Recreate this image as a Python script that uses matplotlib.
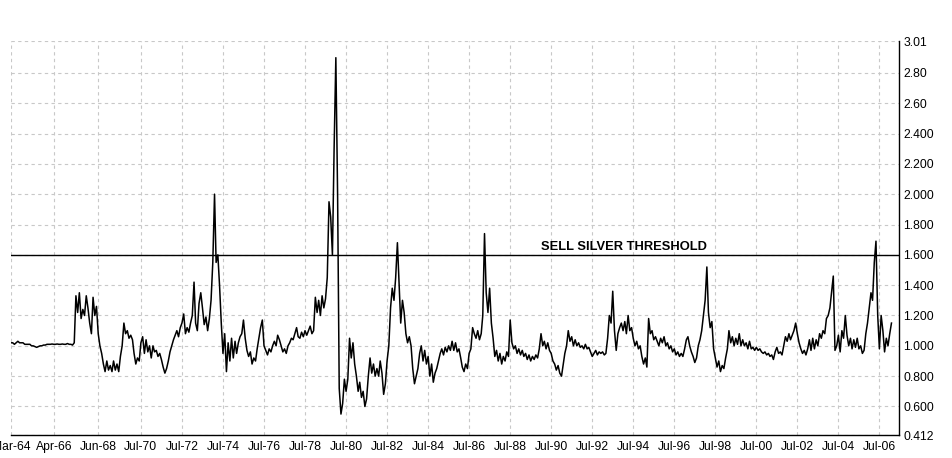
import matplotlib
matplotlib.use("Agg")
import matplotlib.pyplot as plt
import matplotlib.dates as mdates
import pandas as pd

# ---- data (monthly, starting Mar-1964) ----
start_month = "1964-03-01"
ratio = [
    # 1964 (Mar-Dec)
    1.02, 1.02, 1.01, 1.02, 1.03, 1.02, 1.02, 1.02, 1.01, 1.01,
    # 1965
    1.01, 1.01, 1.00, 1.00, 0.995, 0.99, 0.995, 1.00, 1.00, 1.005, 1.005, 1.01,
    # 1966
    1.01, 1.01, 1.012, 1.01, 1.01, 1.012, 1.01, 1.01, 1.012, 1.01, 1.01, 1.015,
    # 1967
    1.01, 1.01, 1.005, 1.02, 1.33, 1.22, 1.35, 1.18, 1.24, 1.20, 1.33, 1.25,
    # 1968
    1.15, 1.08, 1.32, 1.20, 1.26, 1.08, 1.00, 0.95, 0.88, 0.83, 0.90, 0.84,
    # 1969
    0.87, 0.83, 0.90, 0.84, 0.88, 0.83, 0.93, 1.00, 1.15, 1.08, 1.10, 1.05,
    # 1970
    1.07, 1.04, 0.95, 0.88, 0.92, 0.90, 1.02, 1.06, 0.95, 1.04, 0.96, 1.00,
    # 1971
    0.92, 1.00, 0.96, 0.97, 0.93, 0.95, 0.91, 0.86, 0.82, 0.85, 0.90, 0.96,
    # 1972
    1.00, 1.04, 1.07, 1.10, 1.06, 1.12, 1.15, 1.21, 1.08, 1.12, 1.09, 1.15,
    # 1973
    1.20, 1.42, 1.15, 1.10, 1.28, 1.35, 1.25, 1.14, 1.19, 1.10, 1.18, 1.30,
    # 1974
    1.55, 2.00, 1.55, 1.60, 1.40, 1.15, 0.95, 1.08, 0.83, 1.02, 0.90, 1.05,
    # 1975
    0.92, 1.03, 0.95, 1.02, 1.06, 1.08, 1.17, 1.05, 0.97, 0.93, 0.96, 0.88,
    # 1976
    0.92, 0.90, 0.98, 1.05, 1.12, 1.17, 1.00, 0.97, 0.94, 0.98, 0.96, 1.00,
    # 1977
    1.03, 1.00, 1.07, 1.04, 1.00, 0.96, 0.98, 0.95, 1.00, 1.02, 1.05, 1.04,
    # 1978
    1.08, 1.12, 1.06, 1.05, 1.09, 1.06, 1.10, 1.07, 1.10, 1.13, 1.08, 1.10,
    # 1979
    1.32, 1.22, 1.30, 1.20, 1.33, 1.25, 1.31, 1.45, 1.95, 1.85, 1.60, 2.30,
    # 1980
    2.90, 2.00, 0.72, 0.55, 0.62, 0.78, 0.70, 0.78, 1.05, 0.92, 1.02, 0.88,
    # 1981
    0.80, 0.70, 0.76, 0.66, 0.70, 0.60, 0.65, 0.80, 0.92, 0.82, 0.88, 0.80,
    # 1982
    0.85, 0.80, 0.90, 0.82, 0.68, 0.75, 0.90, 1.00, 1.25, 1.38, 1.30, 1.45,
    # 1983
    1.68, 1.40, 1.15, 1.30, 1.22, 1.08, 1.02, 1.06, 1.00, 0.85, 0.75, 0.80,
    # 1984
    0.85, 0.95, 1.00, 0.90, 0.97, 0.88, 0.93, 0.80, 0.88, 0.76, 0.82, 0.85,
    # 1985
    0.90, 0.95, 0.98, 0.94, 0.99, 0.96, 1.00, 0.97, 1.03, 0.97, 1.02, 0.96,
    # 1986
    0.98, 0.92, 0.86, 0.83, 0.88, 0.85, 0.95, 0.98, 1.12, 1.08, 1.05, 1.10,
    # 1987
    1.04, 1.08, 1.20, 1.74, 1.35, 1.22, 1.38, 1.15, 1.05, 0.93, 0.97, 0.90,
    # 1988
    0.95, 0.88, 0.93, 0.90, 0.96, 0.93, 1.17, 1.02, 0.98, 1.00, 0.95, 0.98,
    # 1989
    0.94, 0.97, 0.93, 0.95, 0.91, 0.94, 0.90, 0.93, 0.91, 0.94, 0.92, 0.98,
    # 1990
    1.08, 1.00, 1.03, 0.98, 1.02, 0.97, 0.95, 0.90, 0.88, 0.84, 0.87, 0.82,
    # 1991
    0.80, 0.88, 0.95, 1.00, 1.10, 1.03, 1.06, 1.00, 1.04, 1.00, 1.02, 0.99,
    # 1992
    1.00, 0.98, 1.01, 0.98, 0.99, 0.96, 0.93, 0.95, 0.97, 0.94, 0.96, 0.95,
    # 1993
    0.96, 0.94, 0.95, 1.05, 1.20, 1.15, 1.36, 1.10, 0.97, 1.08, 1.12, 1.15,
    # 1994
    1.10, 1.16, 1.08, 1.20, 1.10, 1.12, 1.05, 1.00, 1.03, 0.98, 1.00, 0.93,
    # 1995
    0.88, 0.92, 0.86, 1.18, 1.08, 1.10, 1.04, 1.06, 1.03, 1.00, 1.05, 1.02,
    # 1996
    1.06, 1.00, 1.02, 0.98, 1.00, 0.96, 0.98, 0.94, 0.96, 0.93, 0.95, 0.93,
    # 1997
    0.98, 1.04, 1.06, 1.00, 0.96, 0.93, 0.89, 0.92, 1.00, 1.04, 1.10, 1.20,
    # 1998
    1.30, 1.52, 1.22, 1.12, 1.16, 0.98, 0.92, 0.86, 0.90, 0.83, 0.87, 0.85,
    # 1999
    0.92, 0.98, 1.10, 1.02, 1.06, 1.00, 1.05, 1.01, 1.08, 1.00, 1.04, 1.00,
    # 2000
    1.02, 0.98, 1.03, 0.98, 0.99, 0.97, 0.99, 0.97, 0.98, 0.96, 0.95, 0.96,
    # 2001
    0.94, 0.95, 0.93, 0.94, 0.91, 0.96, 0.99, 0.95, 0.96, 0.94, 1.00, 1.06,
    # 2002
    1.03, 1.08, 1.04, 1.07, 1.10, 1.15, 1.08, 1.02, 0.98, 0.95, 0.97, 0.94,
    # 2003
    0.98, 1.04, 0.97, 1.05, 0.98, 1.04, 1.00, 1.08, 1.05, 1.10, 1.08, 1.18,
    # 2004
    1.20, 1.25, 1.35, 1.46, 0.97, 1.00, 1.07, 0.96, 1.10, 1.05, 1.20, 1.07,
    # 2005
    1.00, 1.05, 0.98, 1.04, 0.99, 1.05, 0.98, 1.00, 0.95, 0.97, 1.08, 1.15,
    # 2006
    1.25, 1.35, 1.30, 1.55, 1.69, 1.20, 0.98, 1.20, 1.10, 0.96, 1.05, 1.00,
    # 2007
    1.08, 1.15,
]

threshold = 1.6
threshold_label = "SELL SILVER THRESHOLD"
label_date = "1990-01-01"

x_tick_dates = ["1964-03-01", "1966-04-01", "1968-06-01", "1970-07-01", "1972-07-01",
                "1974-07-01", "1976-07-01", "1978-07-01", "1980-07-01", "1982-07-01",
                "1984-07-01", "1986-07-01", "1988-07-01", "1990-07-01", "1992-07-01",
                "1994-07-01", "1996-07-01", "1998-07-01", "2000-07-01", "2002-07-01",
                "2004-07-01", "2006-07-01"]
x_tick_labels = ["Mar-64", "Apr-66", "Jun-68", "Jul-70", "Jul-72", "Jul-74", "Jul-76",
                 "Jul-78", "Jul-80", "Jul-82", "Jul-84", "Jul-86", "Jul-88", "Jul-90",
                 "Jul-92", "Jul-94", "Jul-96", "Jul-98", "Jul-00", "Jul-02", "Jul-04",
                 "Jul-06"]
y_ticks = [0.412, 0.6, 0.8, 1.0, 1.2, 1.4, 1.6, 1.8, 2.0, 2.2, 2.4, 2.6, 2.8, 3.01]
y_tick_labels = ["0.412", "0.600", "0.800", "1.000", "1.200", "1.400", "1.600", "1.800",
                 "2.000", "2.200", "2.400", "2.60", "2.80", "3.01"]

# ---- plot ----
plt.rcParams['font.family'] = ['Liberation Sans', 'DejaVu Sans']

dates = pd.date_range(start_month, periods=len(ratio), freq="MS")

fig = plt.figure(figsize=(9.52, 4.58), dpi=100)
ax = fig.add_axes([11/952, 23/458, 888/952, 394/458])

ax.plot(dates, ratio, color="black", linewidth=1.1, zorder=3)
ax.axhline(threshold, color="black", linewidth=1.0, zorder=4)
ax.text(pd.Timestamp(label_date), threshold + 0.033, threshold_label,
        fontsize=9.3, fontweight="bold", ha="left", va="baseline", zorder=5)

ax.set_ylim(0.412, 3.01)
ax.set_xlim(pd.Timestamp("1964-03-01"), pd.Timestamp("2007-06-15"))

ax.set_xticks(pd.to_datetime(x_tick_dates))
ax.set_xticklabels(x_tick_labels)
ax.set_yticks(y_ticks)
ax.set_yticklabels(y_tick_labels)

ax.yaxis.tick_right()
ax.tick_params(axis="both", length=0, labelsize=8.7, colors="black")
ax.tick_params(axis="x", pad=4)
ax.tick_params(axis="y", pad=3)

for s in ["left", "top"]:
    ax.spines[s].set_visible(False)
for s in ["bottom", "right"]:
    ax.spines[s].set_color("black")
    ax.spines[s].set_linewidth(1.0)

ax.grid(True, color="#c8c8c8", linestyle=(0, (3, 3)), linewidth=0.8, zorder=0)
ax.set_axisbelow(True)

fig.savefig("out.png", dpi=100)
